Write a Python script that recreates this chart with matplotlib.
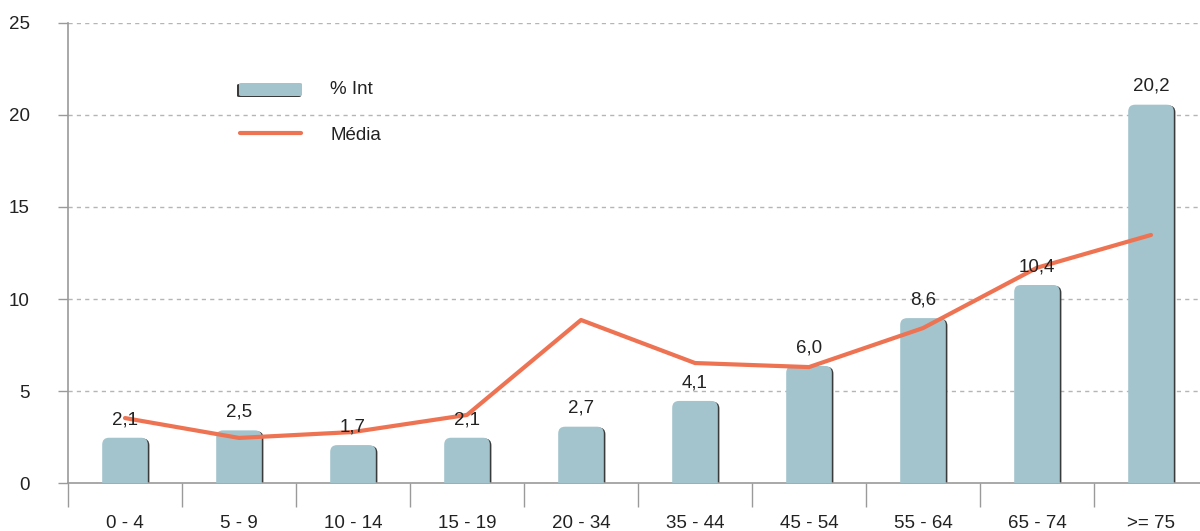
import matplotlib
matplotlib.use("Agg")
import matplotlib.pyplot as plt
from matplotlib.patches import FancyBboxPatch
from matplotlib.lines import Line2D
import matplotlib.transforms as mtransforms
import numpy as np

categories = ["0 - 4", "5 - 9", "10 - 14", "15 - 19", "20 - 34", "35 - 44",
              "45 - 54", "55 - 64", "65 - 74", ">= 75"]
pct_int = [2.1, 2.5, 1.7, 2.1, 2.7, 4.1, 6.0, 8.6, 10.4, 20.2]
media = [3.53, 2.45, 2.77, 3.7, 8.86, 6.52, 6.3, 8.42, 11.7, 13.48]
yticks = [0, 5, 10, 15, 20, 25]

BAR_COLOR = "#a3c4cd"
LINE_COLOR = "#ee7353"
AXIS_COLOR = "#9a9a9a"
TEXT_COLOR = "#222222"
CAP = 0.36  # visual extra of rounded caps
FS = 13.5
FW = "normal"

plt.rcParams['font.family'] = ['Liberation Sans', 'DejaVu Sans']

fig = plt.figure(figsize=(12, 5.31), dpi=100)
ax = fig.add_axes([68/1200, 48/531, 1140/1200, 460/531])

x = np.arange(len(categories))
ax.set_xlim(-0.5, len(categories) - 0.5)
ax.set_ylim(0, 25)

width = 0.4
aspect = (25/460) / (len(categories)/1140)
shadow_tr = mtransforms.offset_copy(ax.transData, fig=fig, x=1.6, y=-0.8, units='dots')
for xi, v in zip(x, pct_int):
    h = v + CAP + 1.0
    sh = FancyBboxPatch((xi - width/2, -1.0), width, h,
                        boxstyle="round,pad=0,rounding_size=0.06",
                        mutation_aspect=aspect, facecolor="#3a3a3a",
                        edgecolor="none", transform=shadow_tr, zorder=2)
    ax.add_patch(sh)
    p = FancyBboxPatch((xi - width/2, -1.0), width, h,
                       boxstyle="round,pad=0,rounding_size=0.06",
                       mutation_aspect=aspect, facecolor=BAR_COLOR,
                       edgecolor="none", zorder=3)
    ax.add_patch(p)
    ax.annotate(f"{v:.1f}".replace(".", ","), (xi, v + CAP), xytext=(0, 7),
                textcoords="offset points", ha="center", va="bottom",
                fontsize=FS, fontweight=FW, color=TEXT_COLOR, zorder=5)

ax.plot(x, media, color=LINE_COLOR, lw=3, zorder=4, solid_capstyle="round")

# grid
for t in yticks[1:]:
    ax.axhline(t, color="#b5b5b5", lw=1, ls=(0, (3, 3)), zorder=1)

for s in ["top", "right"]:
    ax.spines[s].set_visible(False)
for s in ["left", "bottom"]:
    ax.spines[s].set_color(AXIS_COLOR)
    ax.spines[s].set_linewidth(1.2)

ax.set_yticks(yticks)
ax.set_yticklabels([str(t) for t in yticks], fontweight=FW)
ax.tick_params(axis="y", length=7.5, width=1, color=AXIS_COLOR, pad=20,
               labelsize=FS, labelcolor=TEXT_COLOR)
ax.set_xticks(x)
ax.set_xticklabels(categories, fontweight=FW)
ax.set_xticks(np.arange(-0.5, len(categories), 1), minor=True)
ax.tick_params(axis="x", which="major", length=0, pad=23, labelsize=FS,
               labelcolor=TEXT_COLOR)
ax.tick_params(axis="x", which="minor", length=17, width=1, color=AXIS_COLOR)

# legend (manual)
fx = lambda px: px / 1200
fy = lambda py: 1 - py / 531
leg_sh = FancyBboxPatch((fx(237), fy(97)), fx(64), 13/531,
                        boxstyle="round,pad=0,rounding_size=0.002",
                        facecolor="#3a3a3a", edgecolor="none",
                        transform=fig.transFigure, zorder=5)
fig.add_artist(leg_sh)
leg_p = FancyBboxPatch((fx(239), fy(96)), fx(63), 13/531,
                       boxstyle="round,pad=0,rounding_size=0.002",
                       facecolor=BAR_COLOR, edgecolor="none",
                       transform=fig.transFigure, zorder=6)
fig.add_artist(leg_p)
fig.text(fx(330), fy(89), "% Int", fontsize=FS, fontweight=FW, color=TEXT_COLOR, va="center")
fig.add_artist(Line2D([fx(240), fx(301)], [fy(133), fy(133)], color=LINE_COLOR,
                      lw=3, solid_capstyle="round", transform=fig.transFigure))
fig.text(fx(330), fy(136), "Média", fontsize=FS, fontweight=FW, color=TEXT_COLOR, va="center")

fig.savefig("out.png", dpi=100)
